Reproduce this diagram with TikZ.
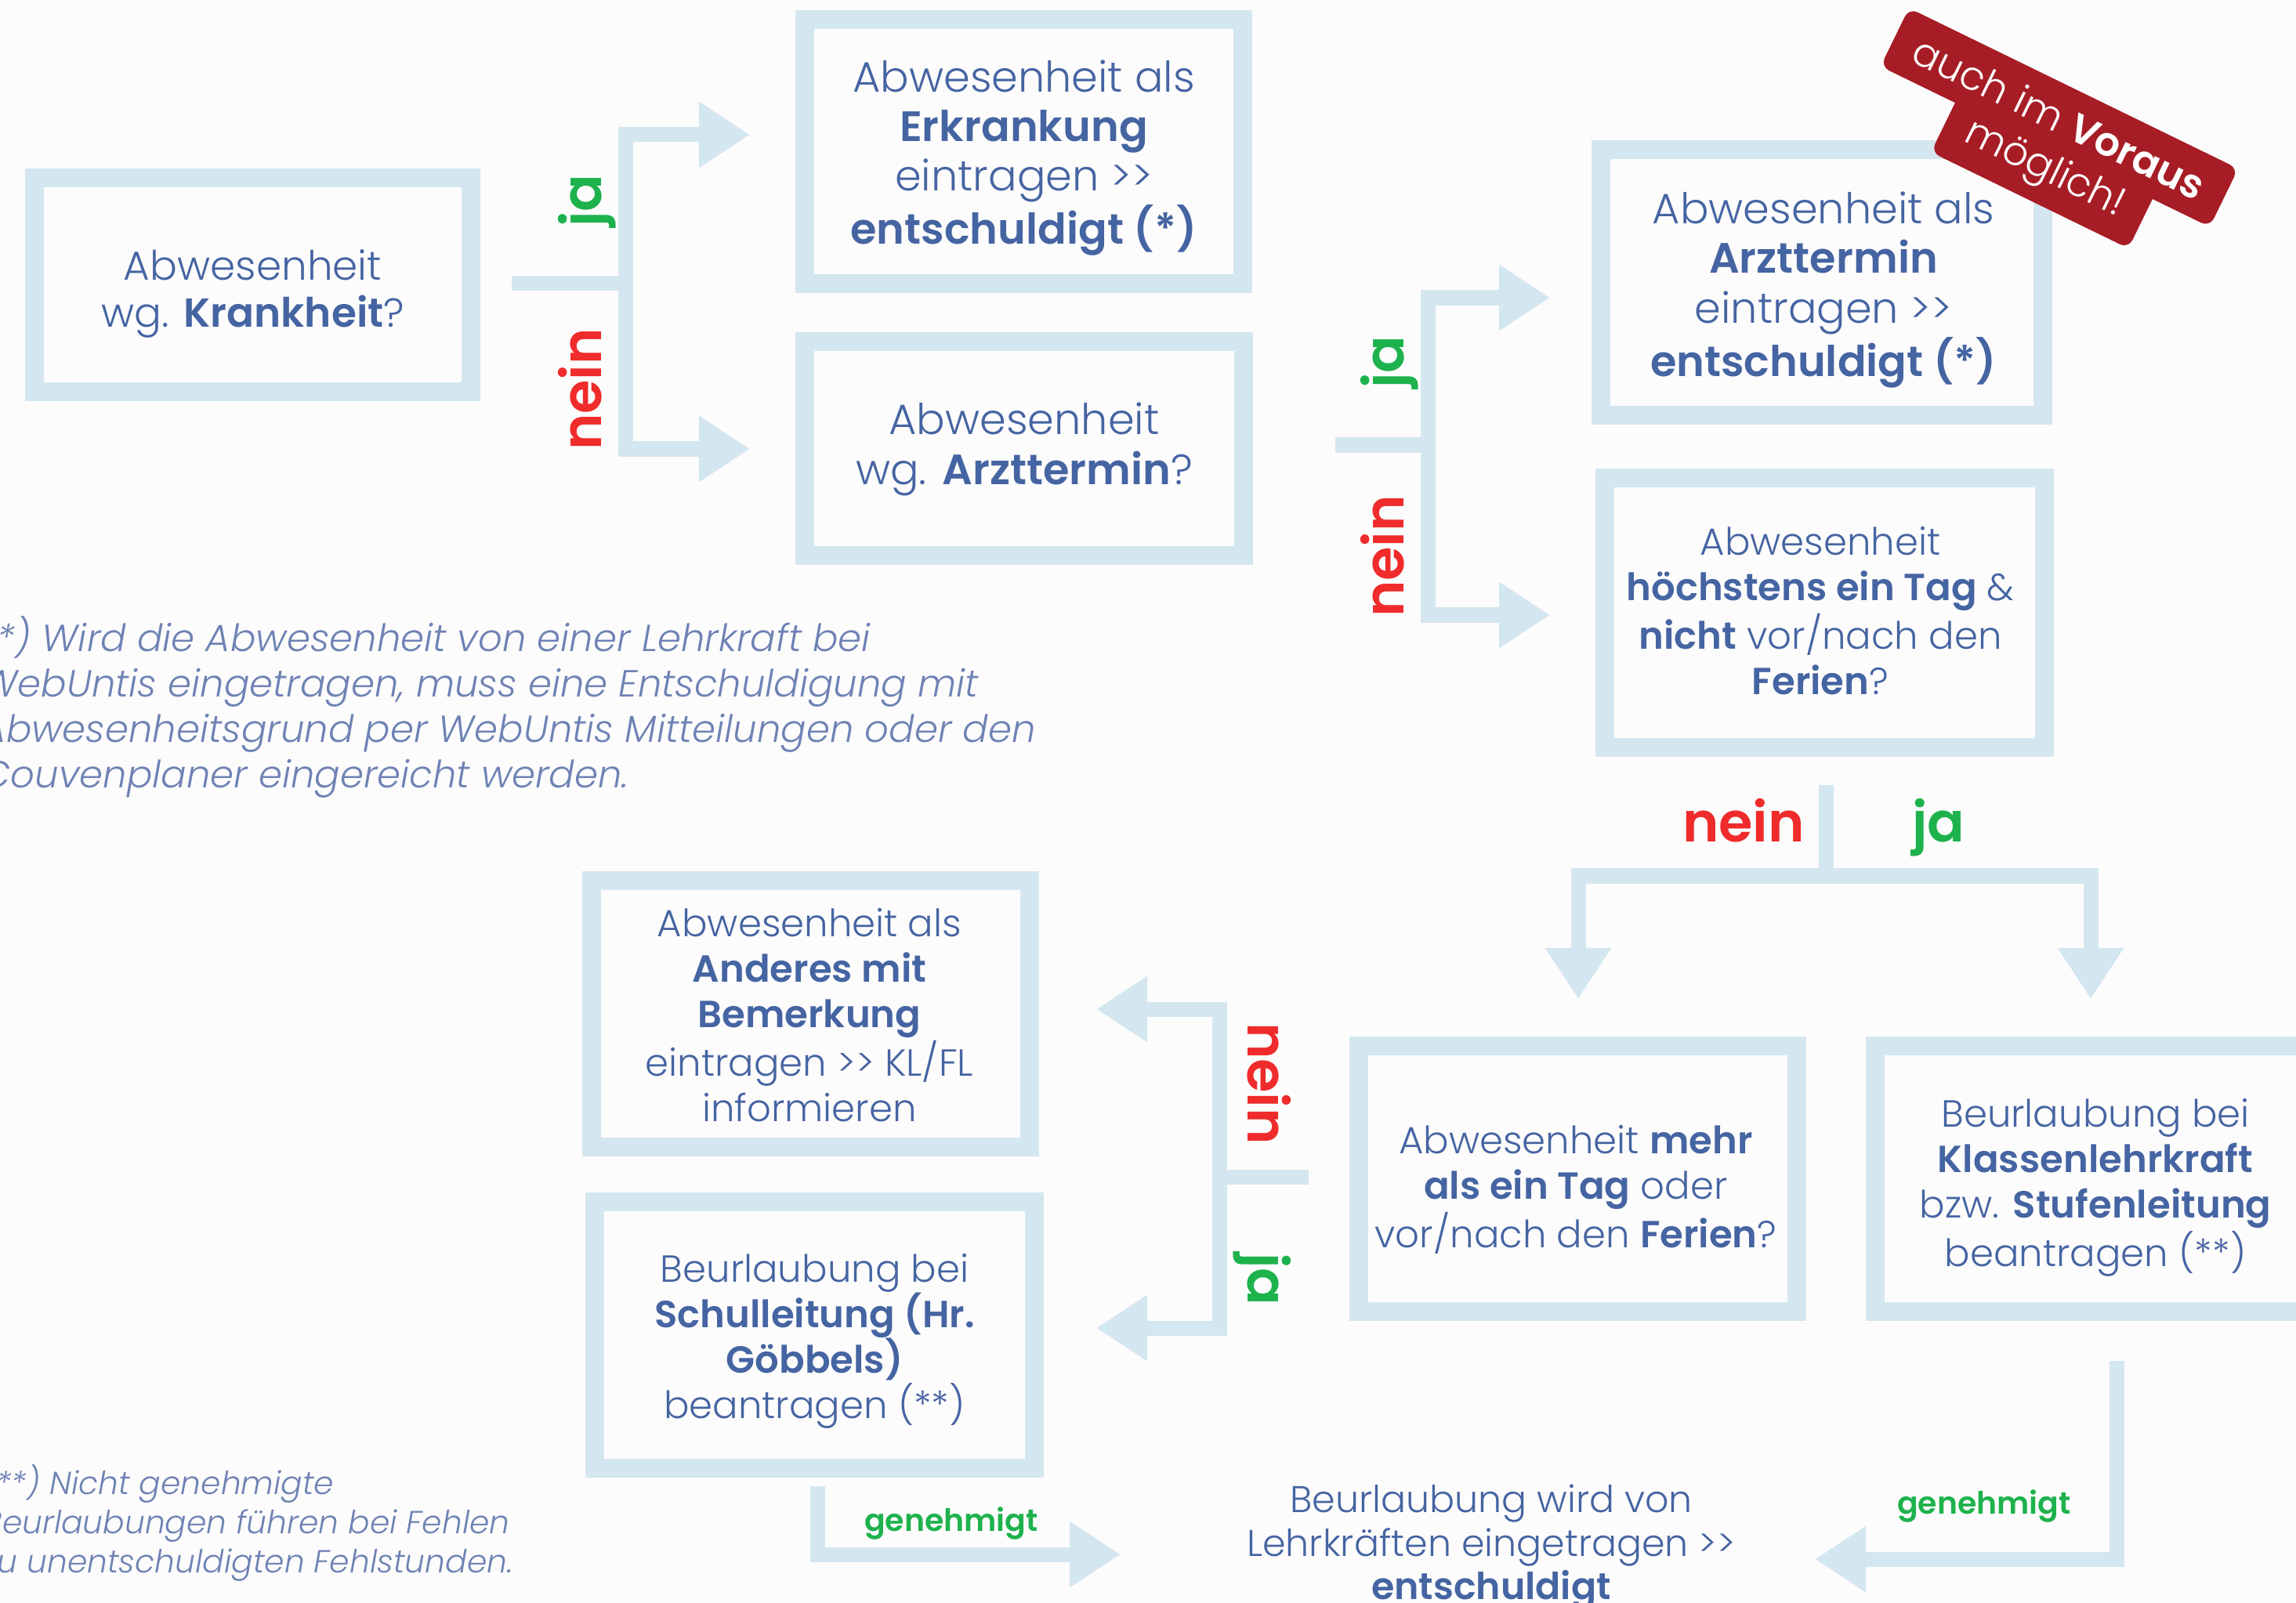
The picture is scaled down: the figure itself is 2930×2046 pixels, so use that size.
\documentclass[tikz,border=0pt]{standalone}
\usepackage{fontspec}
\setmainfont{Poppins}[UprightFont={* Light}, BoldFont={* SemiBold}, ItalicFont={* Light Italic}]
\usetikzlibrary{arrows.meta}
\definecolor{boxc}{HTML}{D4E7F0}
\definecolor{txtc}{HTML}{4564A2}
\definecolor{neinc}{HTML}{EF2B2B}
\definecolor{jac}{HTML}{1EB24D}
\definecolor{badgec}{HTML}{A71D26}
\definecolor{notec}{HTML}{6E82B4}
\definecolor{bgc}{HTML}{FDFCFC}
\newcommand\dblgt{>\kern0pt>}
\begin{document}
\begin{tikzpicture}[x=0.01cm,y=-0.01cm,
  box/.style={draw=boxc, line width=0.24cm, inner sep=0pt, minimum width=5.59cm, minimum height=3.39cm},
  btxt/.style={align=center, text=txtc, inner sep=0pt},
  fbig/.style={btxt, font=\fontsize{15.4}{18}\selectfont},
  fmid/.style={btxt, font=\fontsize{14.7}{17}\selectfont},
  fsmall/.style={btxt, font=\fontsize{13.7}{16.5}\selectfont},
  conn/.style={draw=boxc, line width=0.19cm, line join=miter},
  tip/.style={-{Triangle[length=0.65cm,width=0.8cm]}},
  lab/.style={font=\fontsize{20}{24}\selectfont\bfseries, inner sep=0pt},
  jalab/.style={lab, text=jac},
  neinlab/.style={lab, text=neinc},
  gen/.style={font=\fontsize{11.2}{14}\selectfont\bfseries, text=jac, inner sep=0pt},
  note/.style={text=notec, align=left, inner sep=0pt, anchor=north west},
  badge/.style={fill=badgec, text=white, rounded corners=0.12cm, inner xsep=0.3cm, inner ysep=0.22cm, font=\fontsize{14.5}{17}\selectfont, rotate=-26},
]
\fill[bgc] (0,0) rectangle (2930,2046);
\useasboundingbox (0,0) rectangle (2930,2046);
\clip (0,0) rectangle (2930,2046);

% boxes
\node[box, minimum width=5.57cm, minimum height=2.73cm] (b1) at (322.5,363.5) {};
\node[fmid] (b1t) at (322.5,375) {Abwesenheit\\wg. \textbf{Krankheit}?};
\node[box, minimum height=3.37cm] (b2) at (1306.5,193.5) {};
\node[fbig] (b2t) at (1306.5,201.5) {Abwesenheit als\\\textbf{Erkrankung}\\eintragen \dblgt\\\textbf{entschuldigt (*)}};
\node[box, minimum height=2.73cm] (b3) at (1307,572.5) {};
\node[fbig] (b3t) at (1307,573.5) {Abwesenheit\\wg. \textbf{Arzttermin}?};
\node[box, minimum width=5.64cm] (b4) at (2325,360.5) {};
\node[fbig] (b4t) at (2327,370) {Abwesenheit als\\\textbf{Arzttermin}\\eintragen \dblgt\\\textbf{entschuldigt (*)}};
\node[box, minimum width=5.61cm, minimum height=3.44cm] (b5) at (2328.5,782) {};
\node[fsmall] (b5t) at (2323,780) {Abwesenheit\\\textbf{höchstens ein Tag} \&\\\textbf{nicht} vor/nach den\\\textbf{Ferien}?};
\node[box] (b6) at (2013.5,1504.5) {};
\node[fsmall] (b6t) at (2011,1518) {Abwesenheit \textbf{mehr}\\\textbf{als ein Tag} oder\\vor/nach den \textbf{Ferien}?};
\node[box] (b7) at (2672.5,1504.5) {};
\node[fsmall] (b7t) at (2674,1516) {Beurlaubung bei\\\textbf{Klassenlehrkraft}\\bzw. \textbf{Stufenleitung}\\beantragen (**)};
\node[box, minimum height=3.40cm] (b8) at (1034.5,1294) {};
\node[fsmall] (b8t) at (1033,1296) {Abwesenheit als\\\textbf{Anderes mit}\\\textbf{Bemerkung}\\eintragen \dblgt{} KL/FL\\informieren};
\node[box, minimum width=5.61cm, minimum height=3.40cm] (b9) at (1039.5,1704) {};
\node[fsmall] (b9t) at (1039.5,1712) {Beurlaubung bei\\\textbf{Schulleitung (Hr.}\\\textbf{Göbbels)}\\beantragen (**)};
\node[btxt, font=\fontsize{13.5}{15.8}\selectfont] (fin) at (1903,1975) {Beurlaubung wird von\\Lehrkräften eingetragen \dblgt\\\textbf{entschuldigt}};

% badge
\node[badge, inner ysep=0.17cm] (v2) at (2609,217) {möglich!};
\node[badge] (v1) at (2628,150) {auch im \textbf{Voraus}};

% connector 1
\coordinate (s1) at (653,362);
\coordinate (j1) at (798,362);
\coordinate (t1a) at (957,172);
\coordinate (t1b) at (957,573);
\draw[conn] (s1) -- (j1);
\draw[conn,tip] (j1) |- (t1a);
\draw[conn,tip] (j1) |- (t1b);
\node[jalab, rotate=90, anchor=base] (l1j) at (767,256) {ja};
\node[neinlab, rotate=90, anchor=base] (l1n) at (767,497) {nein};

% connector 2
\coordinate (s2) at (1704,568);
\coordinate (j2) at (1822,568);
\coordinate (t2a) at (1978,380);
\coordinate (t2b) at (1978,785);
\draw[conn] (s2) -- (j2);
\draw[conn,tip] (j2) |- (t2a);
\draw[conn,tip] (j2) |- (t2b);
\node[jalab, rotate=90, anchor=base] (l2j) at (1791,462) {ja};
\node[neinlab, rotate=90, anchor=base] (l2n) at (1791,710) {nein};

% connector 3
\coordinate (s3) at (2330,1002);
\coordinate (j3) at (2330,1118);
\coordinate (t3a) at (2014,1275);
\coordinate (t3b) at (2668,1275);
\draw[conn] (s3) -- (j3);
\draw[conn,tip] (j3) -| (t3a);
\draw[conn,tip] (j3) -| (t3b);
\node[neinlab, anchor=base] (l3n) at (2225,1074) {nein};
\node[jalab, anchor=base] (l3j) at (2474,1074) {ja};

% connector 4
\coordinate (s4) at (1670,1502);
\coordinate (j4) at (1556,1502);
\coordinate (t4a) at (1399,1288);
\coordinate (t4b) at (1399,1695);
\draw[conn] (s4) -- (j4);
\draw[conn,tip] (j4) |- (t4a);
\draw[conn,tip] (j4) |- (t4b);
\node[neinlab, rotate=-90, anchor=base] (l4n) at (1592,1383) {nein};
\node[jalab, rotate=-90, anchor=base] (l4j) at (1592,1633) {ja};

% connector 5 and 6
\coordinate (s5) at (1043,1897);
\coordinate (t5) at (1430,1984);
\draw[conn,tip] (s5) |- (t5);
\node[gen] (g5) at (1214,1944) {genehmigt};
\coordinate (s6) at (2701,1737);
\coordinate (t6) at (2316,1990);
\draw[conn,tip] (s6) |- (t6);
\node[gen] (g6) at (2532,1922) {genehmigt};

% footnotes
\node[note, font=\itshape\fontsize{13.7}{16.5}\selectfont] (n1) at (-24,786) {(*) Wird die Abwesenheit von einer Lehrkraft bei\\WebUntis eingetragen, muss eine Entschuldigung mit\\Abwesenheitsgrund per WebUntis Mitteilungen oder den\\Couvenplaner eingereicht werden.};
\node[note, font=\itshape\fontsize{11.6}{14.2}\selectfont] (n2) at (-22,1869) {(**) Nicht genehmigte\\Beurlaubungen führen bei Fehlen\\zu unentschuldigten Fehlstunden.};
\end{tikzpicture}
\end{document}
